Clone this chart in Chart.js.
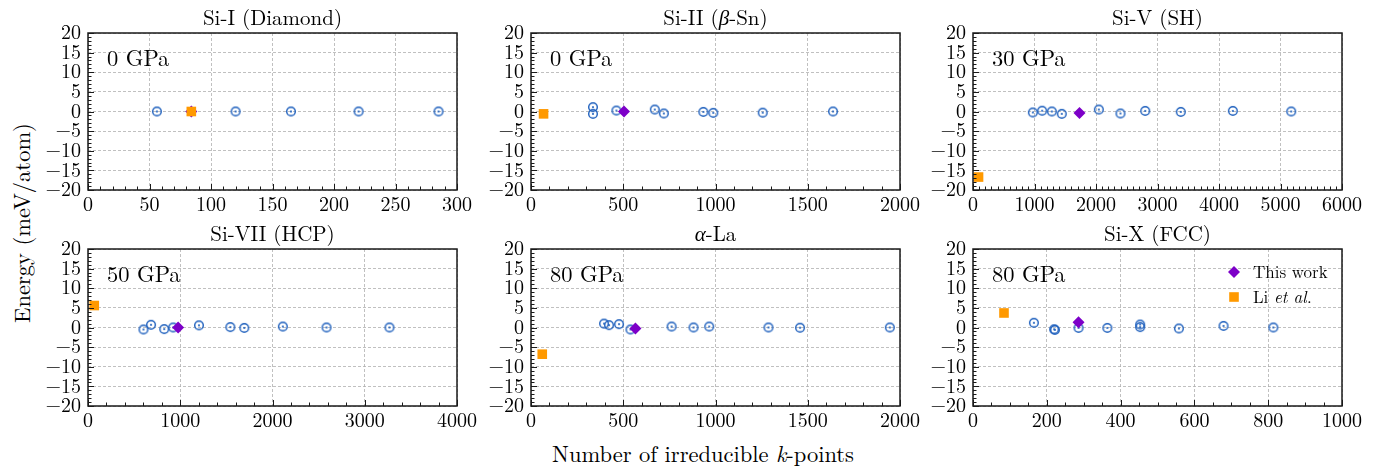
<!DOCTYPE html>
<html>
<head>
<meta charset="utf-8">
<script src="https://cdn.jsdelivr.net/npm/chart.js@4.4.0/dist/chart.umd.min.js"></script>
<style>
  body { margin: 0; background: #fff; }
  #fig { position: relative; width: 1375px; height: 466px; overflow: hidden; font-family: "Latin Modern Roman", "Liberation Serif", serif; color: #000; }
  #fig canvas { position: absolute; }
  .ylab { position: absolute; left: 21px; top: 223px; transform: translate(-50%, -50%) rotate(-90deg); font-size: 22.5px; white-space: nowrap; }
  .xlab { position: absolute; left: 703px; top: 453px; transform: translate(-50%, -50%); font-size: 22.5px; white-space: nowrap; }
</style>
</head>
<body>
<div id="fig">
  <div class="ylab">Energy (meV/atom)</div>
  <div class="xlab">Number of irreducible <i>k</i>-points</div>
</div>
<script>
// ===== DATA =====
const TITLES = ["Si-I (Diamond)", "Si-II (β-Sn)", "Si-V (SH)", "Si-VII (HCP)", "α-La", "Si-X (FCC)"];
const PRESSURES = ["0 GPa", "0 GPa", "30 GPa", "50 GPa", "80 GPa", "80 GPa"];
const X_MAX = [300, 2000, 6000, 4000, 2000, 1000];
const X_STEP = [50, 500, 1000, 1000, 500, 200];
const X_MINOR = [10, 100, 100, 200, 100, 50];
const Y_MIN = -20, Y_MAX = 20, Y_STEP = 5, Y_MINOR = 1;

// k-point convergence scan (blue open circles)
const SI_I_K = [56, 120, 165, 220, 285];
const SI_I_E = [0, 0, 0, 0, 0];
const SI_II_K = [336, 336, 463, 671, 720, 934, 988, 1256, 1637];
const SI_II_E = [1.1, -0.6, 0.25, 0.5, -0.5, -0.1, -0.35, -0.3, 0];
const SI_V_K = [973, 1125, 1282, 1444, 2046, 2398, 2800, 3379, 4225, 5174];
const SI_V_E = [-0.25, 0.2, 0, -0.6, 0.5, -0.5, 0.15, -0.1, 0.15, 0];
const SI_VII_K = [601, 683, 826, 923, 1203, 1543, 1694, 2112, 2586, 3268];
const SI_VII_E = [-0.5, 0.7, -0.4, 0, 0.55, 0.1, -0.1, 0.25, 0, 0];
const LA_K = [396, 423, 477, 539, 762, 881, 966, 1287, 1458, 1945];
const LA_E = [1.0, 0.6, 0.85, -0.5, 0.25, 0, 0.25, 0, -0.05, 0];
const SI_X_K = [165, 220, 222, 286, 364, 453, 453, 558, 679, 814];
const SI_X_E = [1.2, -0.45, -0.6, -0.1, -0.1, 0.75, 0.1, -0.25, 0.4, 0];

const SCAN_K = [SI_I_K, SI_II_K, SI_V_K, SI_VII_K, LA_K, SI_X_K];
const SCAN_E = [SI_I_E, SI_II_E, SI_V_E, SI_VII_E, LA_E, SI_X_E];

// selected settings
const THIS_WORK_K = [84, 504, 1732, 977, 566, 286];
const THIS_WORK_E = [0, 0, -0.4, 0, -0.25, 1.35];
const LI_K = [84, 68, 90, 68, 61, 84];
const LI_E = [0, -0.6, -16.7, 5.6, -6.8, 3.7];

// ===== STYLE =====
const BLUE = "#1d5fbd";
const PURPLE = "#7d00c8";
const ORANGE = "#ff9900";
const SERIF = "'Latin Modern Roman', 'Liberation Serif', serif";
const PLOT_LEFT = [88, 531, 973];
const PLOT_TOP = [33, 249];
const PLOT_W = 369, PLOT_H = 157;
const PAD_L = 50, PAD_T = 34, PAD_R = 26, PAD_B = 31;

// open circle with centre dot
function makeOdot() {
  const c = document.createElement("canvas");
  c.width = 12; c.height = 12;
  const g = c.getContext("2d");
  g.strokeStyle = BLUE; g.fillStyle = BLUE; g.lineWidth = 1.4;
  g.beginPath(); g.arc(6, 6, 4.3, 0, Math.PI * 2); g.stroke();
  g.beginPath(); g.arc(6, 6, 1.1, 0, Math.PI * 2); g.fill();
  return c;
}
const ODOT = makeOdot();

// text with greek letters / flagged parts in italics
function drawRuns(ctx, runs, x, y, size, align) {
  const font = it => (it ? "italic " : "") + size + "px " + SERIF;
  let total = 0;
  runs.forEach(r => { ctx.font = font(r.it); total += ctx.measureText(r.t).width; });
  let cx = align === "center" ? x - total / 2 : x;
  ctx.textAlign = "left";
  ctx.textBaseline = "alphabetic";
  runs.forEach(r => { ctx.font = font(r.it); ctx.fillText(r.t, cx, y); cx += ctx.measureText(r.t).width; });
}
function greekRuns(s) {
  const runs = [];
  for (const ch of s) {
    const it = /[\u0370-\u03ff]/.test(ch);
    if (runs.length && runs[runs.length - 1].it === it) runs[runs.length - 1].t += ch;
    else runs.push({ t: ch, it });
  }
  return runs;
}

function diamond(ctx, x, y, r) {
  ctx.beginPath();
  ctx.moveTo(x, y - r); ctx.lineTo(x + r, y); ctx.lineTo(x, y + r); ctx.lineTo(x - r, y);
  ctx.closePath(); ctx.fill();
}

// frame, inward ticks, titles, annotation, legend
const panelDeco = {
  id: "panelDeco",
  afterDraw(chart, args, o) {
    const { ctx, chartArea: a, scales: { x, y } } = chart;
    ctx.save();
    ctx.strokeStyle = "#1a1a1a";
    ctx.lineWidth = 1;
    ctx.beginPath();
    const nx = Math.round(x.max / o.minor);
    for (let i = 0; i <= nx; i++) {
      const v = i * o.minor;
      const px = Math.round(x.getPixelForValue(v)) + 0.5;
      const len = (v % o.step === 0) ? 6 : 3.5;
      ctx.moveTo(px, a.bottom); ctx.lineTo(px, a.bottom - len);
    }
    for (let v = Y_MIN; v <= Y_MAX; v += Y_MINOR) {
      const py = Math.round(y.getPixelForValue(v)) + 0.5;
      const len = (v % Y_STEP === 0) ? 6 : 3.5;
      ctx.moveTo(a.left, py); ctx.lineTo(a.left + len, py);
    }
    ctx.stroke();
    ctx.lineWidth = 1.5;
    ctx.strokeRect(a.left, a.top, a.right - a.left, a.bottom - a.top);

    ctx.fillStyle = "#000";
    drawRuns(ctx, greekRuns(o.title), (a.left + a.right) / 2, a.top - 8, 21, "center");
    drawRuns(ctx, [{ t: o.pressure, it: false }], a.left + 19, a.top + 33, 22.5, "left");

    if (o.legend) {
      const lx = a.left + 261, ly1 = a.top + 23, ly2 = a.top + 48;
      ctx.fillStyle = PURPLE;
      diamond(ctx, lx, ly1, 6);
      ctx.fillStyle = ORANGE;
      ctx.fillRect(lx - 4.8, ly2 - 4.8, 9.6, 9.6);
      ctx.fillStyle = "#000";
      drawRuns(ctx, [{ t: "This work", it: false }], lx + 19, ly1 + 5.5, 17, "left");
      drawRuns(ctx, [{ t: "Li ", it: false }, { t: "et al.", it: true }], lx + 19, ly2 + 5.5, 17, "left");
    }
    ctx.restore();
  }
};

// ===== BUILD PANELS =====
const fig = document.getElementById("fig");
const tickFont = { family: SERIF, size: 20 };
const fmtY = v => (v < 0 ? "\u2212" + (-v) : String(v));

for (let i = 0; i < 6; i++) {
  const col = i % 3, row = Math.floor(i / 3);
  const cv = document.createElement("canvas");
  const W = PAD_L + PLOT_W + PAD_R, H = PAD_T + PLOT_H + PAD_B;
  cv.width = W; cv.height = H;
  cv.style.width = W + "px"; cv.style.height = H + "px";
  cv.style.left = (PLOT_LEFT[col] - PAD_L) + "px";
  cv.style.top = (PLOT_TOP[row] - PAD_T) + "px";
  fig.appendChild(cv);

  new Chart(cv, {
    type: "scatter",
    data: {
      datasets: [
        {
          data: SCAN_K[i].map((k, j) => ({ x: k, y: SCAN_E[i][j] })),
          pointStyle: ODOT, pointRadius: 5, order: 3
        },
        {
          data: [{ x: THIS_WORK_K[i], y: THIS_WORK_E[i] }],
          pointStyle: "rectRot", pointRadius: 6, pointBackgroundColor: PURPLE, pointBorderWidth: 0, order: 2
        },
        {
          data: [{ x: LI_K[i], y: LI_E[i] }],
          pointStyle: "rect", pointRadius: 6.8, pointBackgroundColor: ORANGE, pointBorderWidth: 0, order: 1
        }
      ]
    },
    options: {
      responsive: false,
      animation: false,
      devicePixelRatio: 1,
      layout: { padding: { left: 0, top: PAD_T, right: PAD_R, bottom: 0 } },
      plugins: {
        legend: { display: false },
        tooltip: { enabled: false },
        panelDeco: { title: TITLES[i], pressure: PRESSURES[i], step: X_STEP[i], minor: X_MINOR[i], legend: i === 5 }
      },
      scales: {
        x: {
          type: "linear", min: 0, max: X_MAX[i],
          afterFit: s => { s.height = PAD_B; },
          ticks: { stepSize: X_STEP[i], font: tickFont, color: "#000", padding: 3, maxRotation: 0, autoSkip: false, callback: v => String(v) },
          grid: { color: "#b0b0b0", lineWidth: 0.8, drawTicks: false },
          border: { display: false, dash: [3, 2] }
        },
        y: {
          min: Y_MIN, max: Y_MAX,
          afterFit: s => { s.width = PAD_L; },
          ticks: { stepSize: Y_STEP, font: tickFont, color: "#000", padding: 7, autoSkip: false, callback: fmtY },
          grid: { color: "#b0b0b0", lineWidth: 0.8, drawTicks: false },
          border: { display: false, dash: [3, 2] }
        }
      }
    },
    plugins: [panelDeco]
  });
}
</script>
</body>
</html>
